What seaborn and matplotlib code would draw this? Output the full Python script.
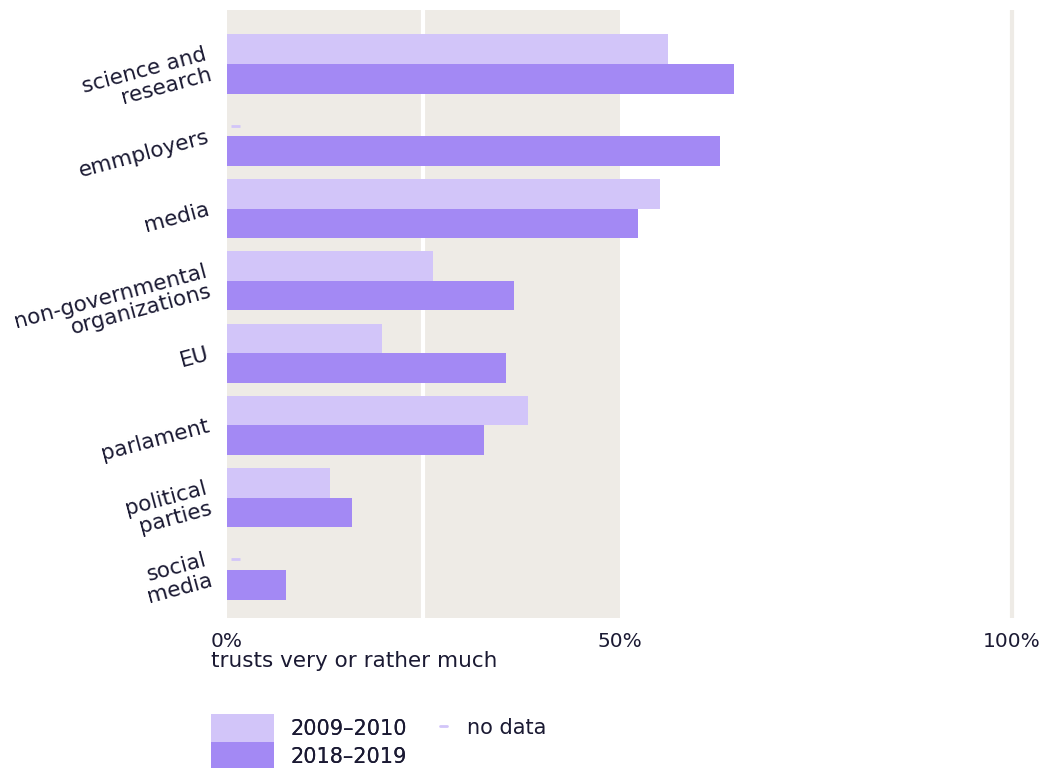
import numpy as np
import pandas as pd
import seaborn as sns
import matplotlib.pyplot as plt
from matplotlib.patches import Patch
from matplotlib.lines import Line2D

CATEGORIES = [
    "science and\nresearch",
    "emmployers",
    "media",
    "non-governmental\norganizations",
    "EU",
    "parlament",
    "political\nparties",
    "social\nmedia",
]
PERIODS = ["2009–2010", "2018–2019"]
# share trusting very or rather much, in %; NaN = no data
VALUES_2009 = [56.2, np.nan, 55.2, 26.2, 19.7, 38.3, 13.1, np.nan]
VALUES_2018 = [64.6, 62.8, 52.4, 36.6, 35.5, 32.7, 15.9, 7.5]
X_TICKS = [0, 50, 100]
X_TICK_LABELS = ["0%", "50%", "100%"]

LIGHT = "#d2c5f9"
DARK = "#a389f4"
BEIGE = "#eeebe6"
TEXT = "#1b1a33"
FONT = "DejaVu Sans"

df = pd.DataFrame({
    "category": CATEGORIES * 2,
    "period": [PERIODS[0]] * len(CATEGORIES) + [PERIODS[1]] * len(CATEGORIES),
    "value": VALUES_2009 + VALUES_2018,
})

sns.set_theme(style="white")
plt.rcParams["font.family"] = [FONT]
plt.rcParams["text.color"] = TEXT

W, H = 1054, 768
fig = plt.figure(figsize=(W / 100, H / 100), dpi=100)
ax = fig.add_axes([227 / W, 1 - 618 / H, 793 / W, 608 / H])

# background band and guides (behind bars)
ax.axvspan(0, 50, color=BEIGE, zorder=0, lw=0)
ax.axvline(25, color="white", lw=3, zorder=0.5)
ax.axvline(100, color=BEIGE, lw=3, zorder=0.5)

sns.barplot(data=df, x="value", y="category", hue="period", order=CATEGORIES,
            hue_order=PERIODS, palette=[LIGHT, DARK], saturation=1, orient="h",
            width=0.82, errorbar=None, linewidth=0, legend=False, ax=ax, zorder=2)

# "no data" dashes where the 2009-2010 value is missing
missing = [i for i, v in enumerate(VALUES_2009) if np.isnan(v)]
ax.hlines([i - 0.205 + 0.06 for i in missing], 0.5, 1.7, color=LIGHT, lw=2, zorder=3)

ax.set_xlim(0, 101)
ax.set_ylim(len(CATEGORIES) - 1 + 0.665, -0.748)
ax.set_xticks(X_TICKS)
ax.set_xticklabels(X_TICK_LABELS, fontsize=14.5, color=TEXT)
ax.tick_params(axis="x", length=0, pad=10)
ax.tick_params(axis="y", length=0, pad=13)
ax.set_yticks(range(len(CATEGORIES)))
ax.set_yticklabels(CATEGORIES, fontsize=15.5, color=TEXT, rotation=15,
                   ha="right", va="center", rotation_mode="anchor",
                   multialignment="right", linespacing=1.05)
ax.set_xlabel("")
ax.set_ylabel("")
sns.despine(ax=ax, left=True, bottom=True)

fig.text(211 / W, 1 - 661 / H, "trusts very or rather much", fontsize=15.5,
         color=TEXT, va="center", ha="left")

fs = 15
fs_px = fs * 100 / 72
leg1 = fig.legend(
    handles=[Patch(color=LIGHT, lw=0), Patch(color=DARK, lw=0)],
    labels=PERIODS, loc="upper left", bbox_to_anchor=(211 / W, 1 - 714 / H),
    frameon=False, fontsize=fs, borderpad=0, borderaxespad=0,
    handlelength=63 / fs_px, handleheight=1.69, labelspacing=0,
    handletextpad=16 / fs_px,
)
leg2 = fig.legend(
    handles=[Line2D([0], [0], color=LIGHT, lw=2)], labels=["no data"],
    loc="upper left", bbox_to_anchor=(440 / W, 1 - 718 / H),
    frameon=False, fontsize=fs, borderpad=0, borderaxespad=0,
    handlelength=7 / fs_px, handleheight=1.0, handletextpad=20 / fs_px,
)
fig.add_artist(leg1)

fig.savefig("out.png", dpi=100)
